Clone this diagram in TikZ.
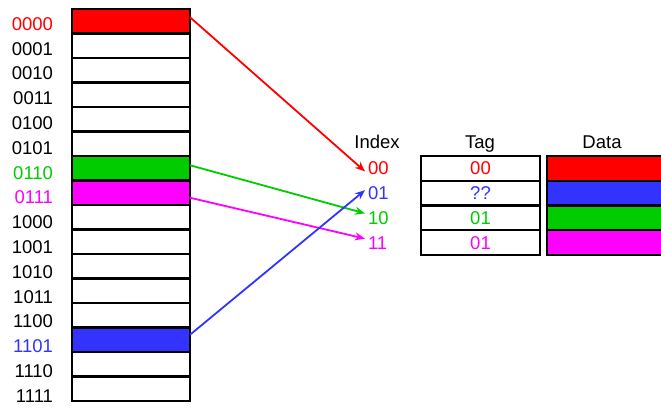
\documentclass[tikz,border=0pt]{standalone}
\usepackage{fontspec}
\setmainfont{Liberation Sans}
\usetikzlibrary{arrows.meta}

% Colors
\definecolor{memred}{HTML}{FF0000}
\definecolor{memgreen}{HTML}{00CC00}
\definecolor{memmagenta}{HTML}{FF00FF}
\definecolor{memblue}{HTML}{3333FF}

\begin{document}
\begin{tikzpicture}[x=1pt, y=-1pt,
    %Option for nice arrows
    >={Stealth[length=10pt,width=8pt]}, %
    inner sep=0pt, outer sep=0pt,%
    font=\fontsize{18.5}{21}\selectfont,
    cell/.style={fill=#1, minimum width=118pt, minimum height=24.5pt},
    slot/.style={cell=#1, minimum width=119pt, minimum height=24.75pt},
    frame/.style={draw, line width=2.1pt},
    link/.style={line width=1.8pt, ->, color=#1},
]
    \useasboundingbox (0,0) rectangle (661,408);

    % Memory blocks with addresses
    \foreach \b/\fc/\tc [count=\i from 0] in {0000/memred/memred, 0001/white/black,
        0010/white/black, 0011/white/black, 0100/white/black, 0101/white/black,
        0110/memgreen/memgreen, 0111/memmagenta/memmagenta, 1000/white/black,
        1001/white/black, 1010/white/black, 1011/white/black, 1100/white/black,
        1101/memblue/memblue, 1110/white/black, 1111/white/black}{
        \node[cell=\fc] (m\i) at (131, 21.25+24.5*\i) {};
        \node[anchor=east, text=\tc] (l\i) at (53, 24+24.8*\i) {\b};
    }
    \foreach \i in {0,...,15}
        \draw[frame] (m\i.north west) rectangle (m\i.south east);

    % Headers
    \node[anchor=base] (index) at (377,148) {Index};
    \node[anchor=base] (tag)   at (480,148) {Tag};
    \node[anchor=base] (data)  at (602,148) {Data};

    % Cache: index, tag and data
    \foreach \b/\tg/\col [count=\j from 0] in {00/00/memred, 01/??/memblue,
        10/01/memgreen, 11/01/memmagenta}{
        \node[anchor=west, text=\col] (i\j) at (368, 168.4+24.75*\j) {\b};
        \node[slot=white, text=\col] (t\j) at (480.5, 168.4+24.75*\j) {\tg};
        \node[slot=\col] (d\j) at (606.5, 168.4+24.75*\j) {};
    }
    \foreach \j in {0,...,3}{
        \draw[frame] (t\j.north west) rectangle (t\j.south east);
        \draw[frame] (d\j.north west) rectangle (d\j.south east);
    }

    % Mapping arrows
    \draw[link=memred]     ([yshift=4pt]m0.east)  -- ([xshift=-3pt,yshift=-3pt]i0.west);
    \draw[link=memgreen]   ([yshift=3pt]m6.east)  -- ([xshift=-3pt,yshift=4.5pt]i2.west);
    \draw[link=memmagenta] ([yshift=-5pt]m7.east) -- ([xshift=-3pt,yshift=4pt]i3.west);
    \draw[link=memblue]    ([yshift=5pt]m13.east) -- ([xshift=-3pt,yshift=3pt]i1.west);
\end{tikzpicture}
\end{document}
